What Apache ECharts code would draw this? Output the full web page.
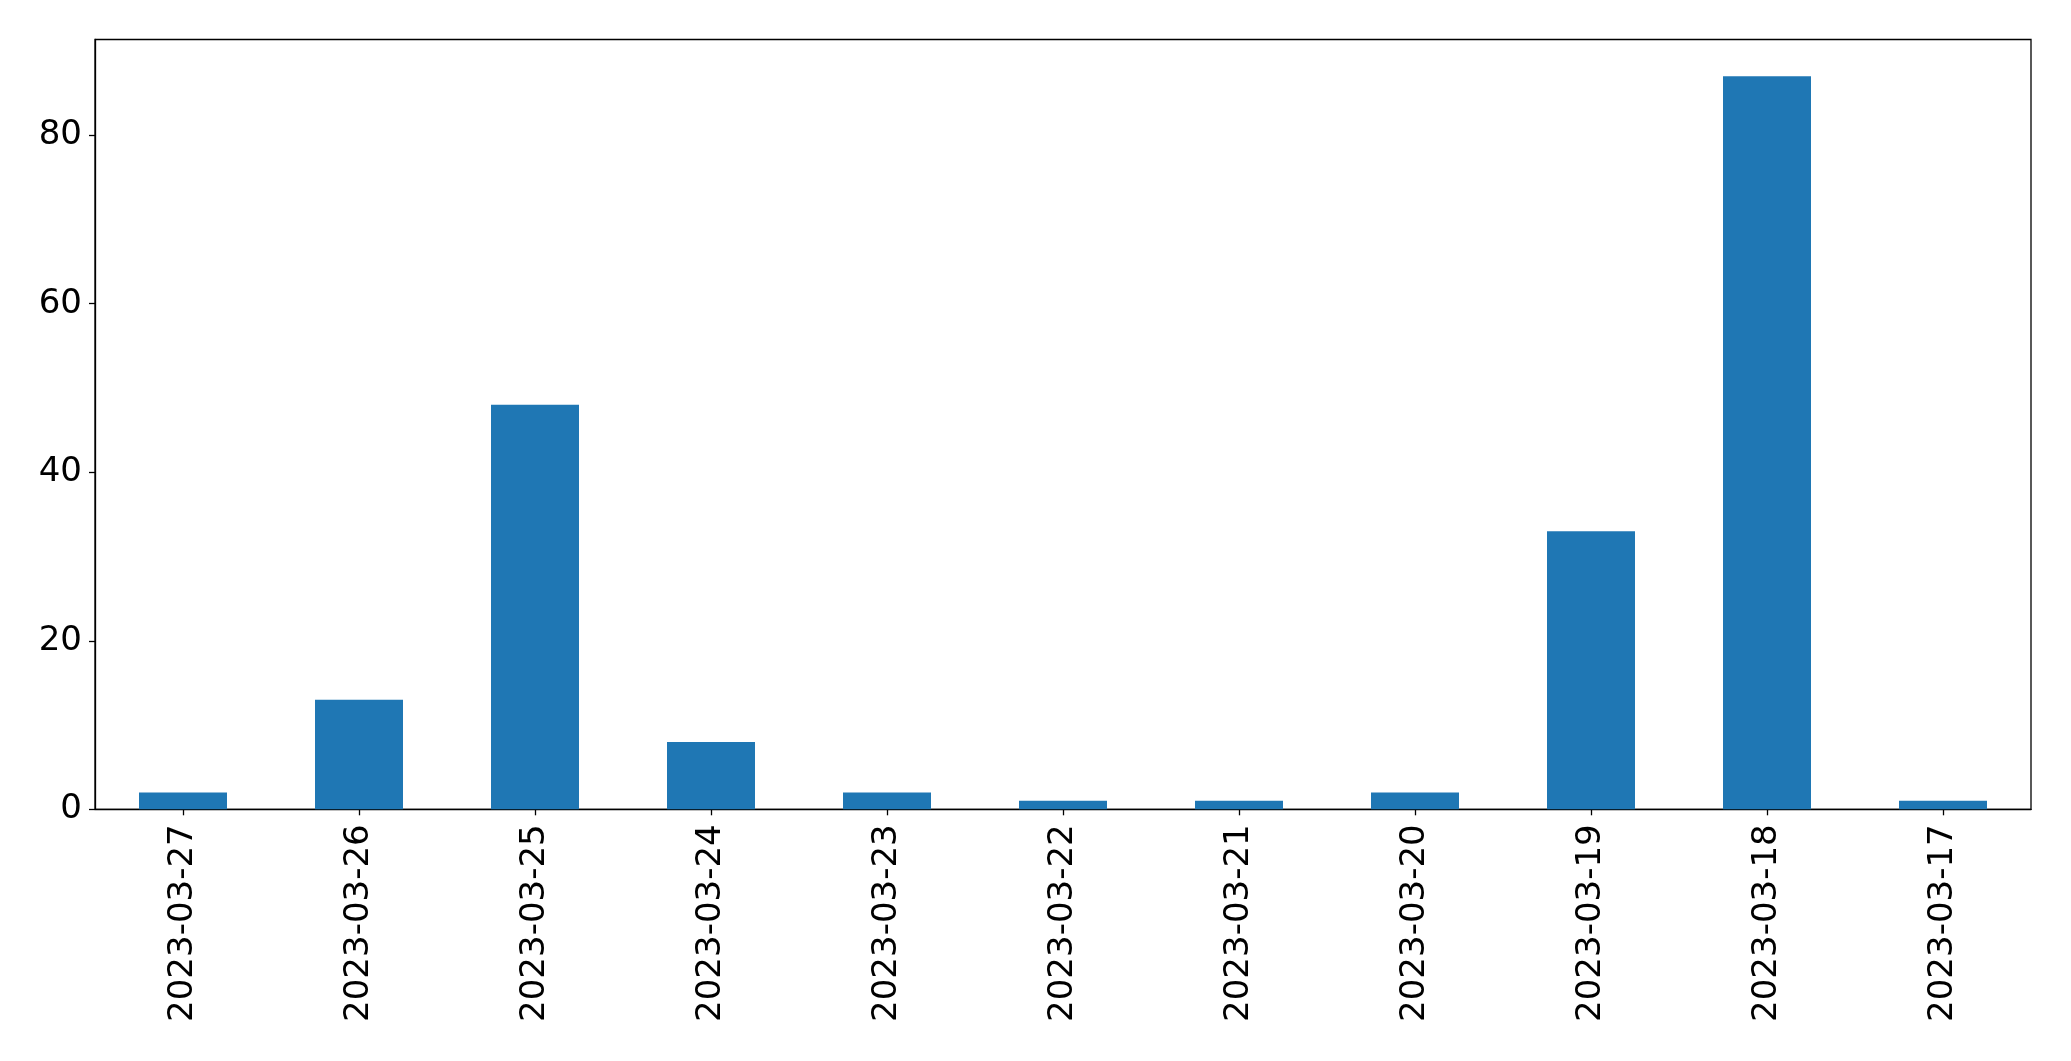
<!DOCTYPE html>
<html>
<head>
<meta charset="utf-8">
<script src="https://cdn.jsdelivr.net/npm/echarts@6/dist/echarts.min.js"></script>
<style>
html,body{margin:0;padding:0;background:#fff;}
#chart{width:2071px;height:1061px;}
</style>
</head>
<body>
<div id="chart"></div>
<script>
const categories = ['2023-03-27','2023-03-26','2023-03-25','2023-03-24','2023-03-23','2023-03-22','2023-03-21','2023-03-20','2023-03-19','2023-03-18','2023-03-17'];
const values = [2, 13, 48, 8, 2, 1, 1, 2, 33, 87, 1];
const yTicks = [0, 20, 40, 60, 80];

const chart = echarts.init(document.getElementById('chart'), null, {renderer: 'canvas'});
const font = 'DejaVu Sans';
chart.setOption({
  animation: false,
  backgroundColor: '#ffffff',
  grid: {
    left: 95, right: 40, top: 39.5, bottom: 251.7,
    show: true, borderColor: '#000000', borderWidth: 1.3, backgroundColor: 'transparent',
    containLabel: false
  },
  xAxis: {
    type: 'category',
    data: categories,
    boundaryGap: true,
    axisLine: {show: true, lineStyle: {color: '#000', width: 1.3}},
    axisTick: {show: true, alignWithLabel: true, length: 6, lineStyle: {color: '#000', width: 1.3}},
    axisLabel: {rotate: 90, margin: 15, color: '#000', fontFamily: font, fontSize: 34, interval: 0},
    splitLine: {show: false}
  },
  yAxis: {
    type: 'value',
    min: 0,
    max: 91.35,
    interval: 20,
    axisLine: {show: true, lineStyle: {color: '#000', width: 1.3}},
    axisTick: {show: true, length: 6, customValues: yTicks, lineStyle: {color: '#000', width: 1.3}},
    axisLabel: {margin: 13, color: '#000', fontFamily: font, fontSize: 34, customValues: yTicks},
    splitLine: {show: false}
  },
  series: [{
    type: 'bar',
    data: values,
    barWidth: '50%',
    itemStyle: {color: '#1f77b4'}
  }]
});
</script>
</body>
</html>
